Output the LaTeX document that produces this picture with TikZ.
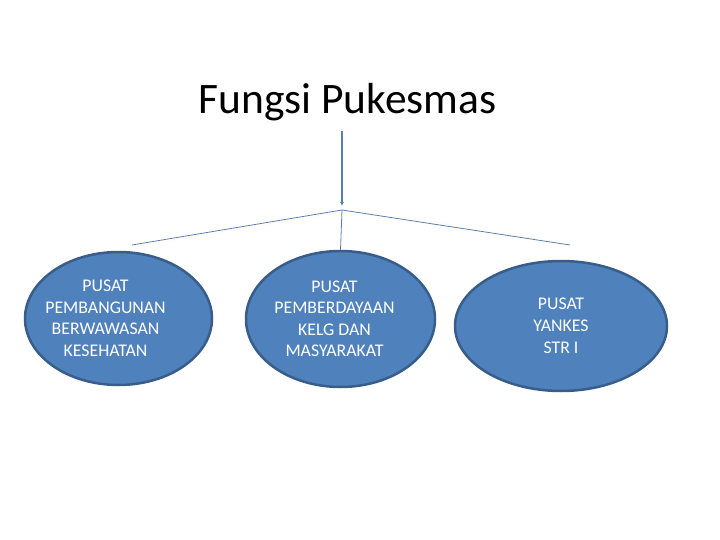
\documentclass[tikz,border=0pt]{standalone}
\usepackage{fontspec}
\setmainfont{Carlito}
\usetikzlibrary{shapes.geometric,arrows.meta}
\definecolor{fillb}{HTML}{4F81BD}
\definecolor{edgeb}{HTML}{385D8A}
\definecolor{linkb}{HTML}{5B7FA6}
\tikzset{
  center/.style={ellipse, fill=fillb, draw=edgeb, line width=2.5pt, inner sep=0pt},
  label text/.style={text=white, font=\fontsize{17.8}{21.5}\selectfont, align=center, inner sep=0pt},
  link/.style={draw=linkb, line width=0.8pt},
}
\begin{document}
\begin{tikzpicture}[x=1pt,y=-1pt]
\useasboundingbox (0,0) rectangle (720,540);
\node[font=\fontsize{43.5}{46}\selectfont] (title) at (347.5,102) {Fungsi Pukesmas};
\coordinate (top) at (342,131);
\coordinate (apex) at (342,210);
\coordinate (lend) at (132,245);
\coordinate (rend) at (570,245);
\node[center, minimum width=187, minimum height=133] (a) at (118.5,318.5) {};
\node[center, minimum width=189, minimum height=136] (b) at (340.5,319) {};
\node[center, minimum width=212, minimum height=130] (c) at (561,326) {};
\node[label text] (at) at ([xshift=-13pt]a.center) {PUSAT\\PEMBANGUNAN\\BERWAWASAN\\KESEHATAN};
\node[label text] (bt) at ([xshift=-6pt]b.center) {PUSAT\\PEMBERDAYAAN\\KELG DAN\\MASYARAKAT};
\node[label text, font=\fontsize{17.8}{22}\selectfont] (ct) at (c.center) {PUSAT\\YANKES\\STR I};
\draw[draw=linkb, line width=1.8pt, -{Latex[length=4pt,width=4pt]}] (top) -- (342,206);
\draw[link] (lend) -- (apex) -- (rend);
\draw[link] (apex) -- (b.north);
\end{tikzpicture}
\end{document}
